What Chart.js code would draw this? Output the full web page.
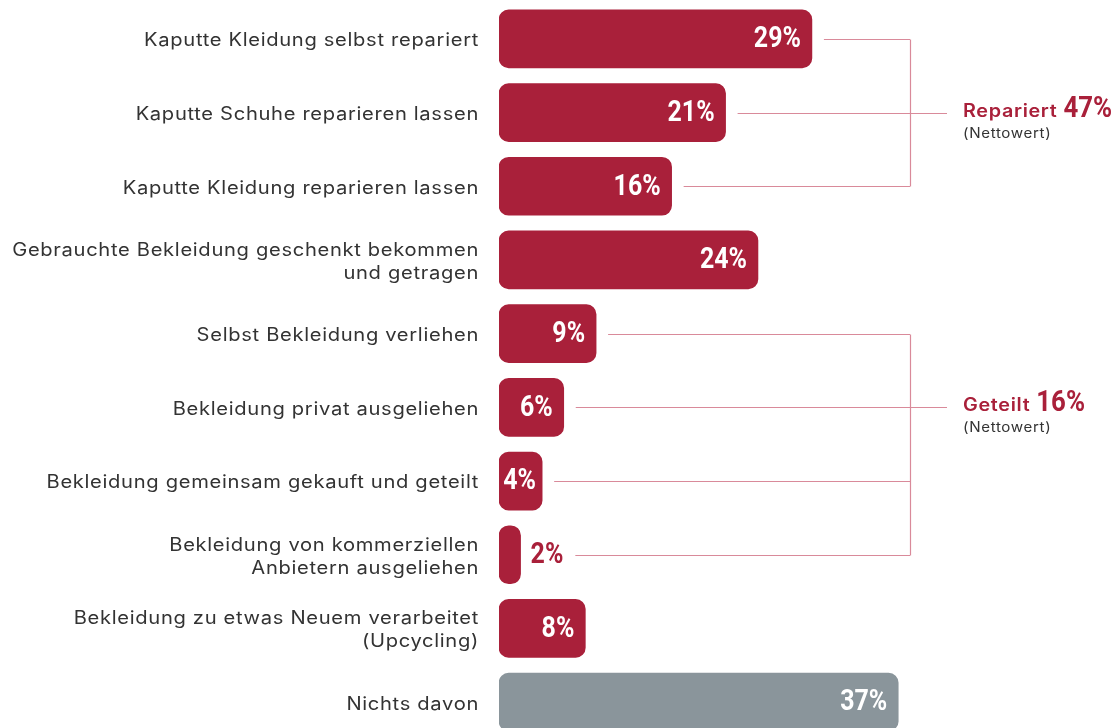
<!DOCTYPE html>
<html>
<head>
<meta charset="utf-8">
<script src="https://cdn.jsdelivr.net/npm/chart.js@4"></script>
<style>
  html, body { margin: 0; padding: 0; background: #fff; overflow: hidden; }
  #wrap { position: relative; width: 1116px; height: 740px; }
</style>
</head>
<body>
<div id="wrap"><canvas id="chart"></canvas></div>
<script>
// Data
const categories = [
  ['Kaputte Kleidung selbst repariert'],
  ['Kaputte Schuhe reparieren lassen'],
  ['Kaputte Kleidung reparieren lassen'],
  ['Gebrauchte Bekleidung geschenkt bekommen', 'und getragen'],
  ['Selbst Bekleidung verliehen'],
  ['Bekleidung privat ausgeliehen'],
  ['Bekleidung gemeinsam gekauft und geteilt'],
  ['Bekleidung von kommerziellen', 'Anbietern ausgeliehen'],
  ['Bekleidung zu etwas Neuem verarbeitet', '(Upcycling)'],
  ['Nichts davon']
];
const values = [29, 21, 16, 24, 9, 6, 4, 2, 8, 37];

// Net value groups (bracket on the right)
const groupNames = ['Repariert', 'Geteilt'];
const groupNetValues = [47, 16];
const groupRows = [[0, 1, 2], [4, 5, 6, 7]];
const groupLabelRow = [1, 5];

const RED = '#a9203a';
const GREY = '#8a959b';
const LINE = '#d98a9a';
const LABEL_FONT = '"Inter", "Open Sans", sans-serif';
const NUM_FONT = '"Roboto", "Liberation Sans", sans-serif';

const barColors = values.map((v, i) => i === values.length - 1 ? GREY : RED);

/**
 * Draw text squeezed or stretched horizontally, returns drawn width
 */
function drawText(ctx, txt, x, y, align, font, stretch, spacing) {
  ctx.save();
  ctx.font = font;
  ctx.letterSpacing = (spacing || 0) + 'px';
  const w = ctx.measureText(txt).width * stretch;
  let left = x;
  if (align === 'right') left = x - w;
  if (align === 'center') left = x - w / 2;
  ctx.translate(left, y);
  ctx.scale(stretch, 1);
  ctx.textAlign = 'left';
  ctx.fillText(txt, 0, 0);
  ctx.restore();
  return w;
}

function textWidth(ctx, txt, font, stretch, spacing) {
  ctx.save();
  ctx.font = font;
  ctx.letterSpacing = (spacing || 0) + 'px';
  const w = ctx.measureText(txt).width * stretch;
  ctx.restore();
  return w;
}

/**
 * Draw category labels, value labels and the net value brackets
 */
const annotatePlugin = {
  id: 'annotate',
  afterDatasetsDraw(chart) {
    const ctx = chart.ctx;
    const xs = chart.scales.x;
    const ys = chart.scales.y;
    const meta = chart.getDatasetMeta(0);
    const valueEnds = [];
    const labelFont = '400 18px ' + LABEL_FONT;
    const numFont = 'bold 29px ' + NUM_FONT;
    const SQ = 0.86;

    ctx.save();
    ctx.textBaseline = 'middle';

    // Category labels on the left
    ctx.fillStyle = '#333333';
    categories.forEach((lines, i) => {
      const y = ys.getPixelForValue(i) + 2;
      const lh = 23;
      const top = y - (lines.length - 1) * lh / 2;
      lines.forEach((t, k) => drawText(ctx, t, xs.left - 20, top + k * lh, 'right', labelFont, 1.12, 0.6));
    });

    // Value labels
    meta.data.forEach((bar, i) => {
      const txt = values[i] + '%';
      const w = textWidth(ctx, txt, numFont, SQ);
      const barW = bar.x - xs.left;
      if (barW >= w + 20) {
        ctx.fillStyle = '#ffffff';
        drawText(ctx, txt, bar.x - 11, bar.y + 1, 'right', numFont, SQ);
        valueEnds.push(bar.x);
      } else if (barW >= w + 4) {
        ctx.fillStyle = '#ffffff';
        drawText(ctx, txt, xs.left + barW / 2 - 1, bar.y + 1, 'center', numFont, SQ);
        valueEnds.push(bar.x);
      } else {
        ctx.fillStyle = RED;
        drawText(ctx, txt, bar.x + 10, bar.y + 1, 'left', numFont, SQ);
        valueEnds.push(bar.x + 10 + w);
      }
    });

    // Brackets
    const bx = 910;
    const tipX = 947;
    ctx.strokeStyle = LINE;
    ctx.lineWidth = 1.2;
    ctx.textBaseline = 'alphabetic';
    groupRows.forEach((rows, g) => {
      ctx.beginPath();
      rows.forEach(i => {
        const y = Math.round(ys.getPixelForValue(i)) + 0.5;
        const endX = i === groupLabelRow[g] ? tipX : bx;
        ctx.moveTo(valueEnds[i] + 12, y);
        ctx.lineTo(endX, y);
      });
      const y0 = Math.round(ys.getPixelForValue(rows[0])) + 0.5;
      const y1 = Math.round(ys.getPixelForValue(rows[rows.length - 1])) + 0.5;
      ctx.moveTo(bx + 0.5, y0);
      ctx.lineTo(bx + 0.5, y1);
      ctx.stroke();

      // Group label
      const ly = ys.getPixelForValue(groupLabelRow[g]);
      ctx.fillStyle = RED;
      const nw = drawText(ctx, groupNames[g], 963, ly + 4, 'left', '600 18px ' + LABEL_FONT, 1.1, 0.6);
      drawText(ctx, groupNetValues[g] + '%', 963 + nw + 6, ly + 4, 'left', 'bold 30px ' + NUM_FONT, SQ);
      ctx.fillStyle = '#333333';
      drawText(ctx, '(Nettowert)', 963, ly + 25, 'left', '400 14px ' + LABEL_FONT, 1.08, 0.6);
    });

    ctx.restore();
  }
};

new Chart(document.getElementById('chart'), {
  type: 'bar',
  data: {
    labels: categories,
    datasets: [{
      data: values,
      backgroundColor: barColors,
      borderRadius: 10,
      borderSkipped: false,
      barThickness: 58
    }]
  },
  options: {
    indexAxis: 'y',
    responsive: true,
    maintainAspectRatio: false,
    animation: false,
    layout: {
      padding: { left: 499, right: 77.5, top: 2, bottom: 1 }
    },
    scales: {
      x: { display: false, min: 0, max: 50 },
      y: { display: false }
    },
    plugins: {
      legend: { display: false },
      tooltip: { enabled: false }
    }
  },
  plugins: [annotatePlugin]
});
</script>
</body>
</html>
